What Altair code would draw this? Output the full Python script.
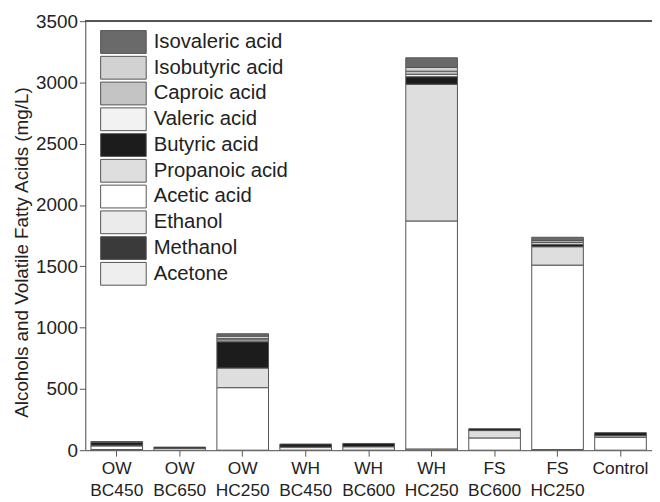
import altair as alt
import pandas as pd

categories = ["OW BC450", "OW BC650", "OW HC250", "WH BC450", "WH BC600",
              "WH HC250", "FS BC600", "FS HC250", "Control"]

# stack order, bottom to top
components = ["Acetone", "Methanol", "Ethanol", "Acetic acid", "Propanoic acid",
              "Butyric acid", "Valeric acid", "Caproic acid", "Isobutyric acid",
              "Isovaleric acid"]

acetone = [5, 0, 0, 25, 28, 10, 0, 5, 0]
methanol = [0, 0, 0, 0, 0, 0, 0, 0, 0]
ethanol = [0, 0, 0, 0, 0, 0, 0, 0, 0]
acetic = [30, 15, 510, 0, 0, 1860, 100, 1505, 105]
propanoic = [5, 0, 160, 0, 0, 1115, 60, 150, 13]
butyric = [25, 10, 215, 25, 27, 62, 15, 20, 25]
valeric = [0, 0, 15, 0, 0, 20, 0, 15, 0]
caproic = [0, 0, 10, 0, 0, 25, 0, 15, 0]
isobutyric = [0, 0, 20, 0, 0, 31, 0, 0, 0]
isovaleric = [5, 0, 20, 0, 0, 78, 0, 27, 0]

series = [acetone, methanol, ethanol, acetic, propanoic, butyric,
          valeric, caproic, isobutyric, isovaleric]

# fill tones standing in for the hatch patterns (same order as components)
tones = ["#eeeeee", "#3a3a3a", "#ebebeb", "#ffffff", "#dedede",
         "#1c1c1c", "#f2f2f2", "#c4c4c4", "#d2d2d2", "#6a6a6a"]

rows = []
for idx, (comp, vals) in enumerate(zip(components, series)):
    for cat, v in zip(categories, vals):
        if v > 0:
            rows.append({"Sample": cat, "Component": comp, "Value": v, "idx": idx})
df = pd.DataFrame(rows)

legend_order = components[::-1]
legend_tones = tones[::-1]

W, H = 572, 433
FONT = "Liberation Sans"

bars = alt.Chart(df).mark_bar(stroke="#555555", strokeWidth=1).encode(
    x=alt.X("Sample:N", sort=categories,
            scale=alt.Scale(paddingInner=0.18, paddingOuter=0.09),
            axis=alt.Axis(title=None, labelAngle=0, labelFontSize=17.5,
                          labelExpr="split(datum.value, ' ')",
                          labelLineHeight=22, labelPadding=4,
                          labelColor="#222", labelFont=FONT,
                          tickSize=6, tickColor="#555", domainColor="#555")),
    y=alt.Y("Value:Q", stack="zero",
            scale=alt.Scale(domain=[0, 3500], nice=False),
            axis=alt.Axis(title="Alcohols and Volatile Fatty Acids (mg/L)",
                          values=[0, 500, 1000, 1500, 2000, 2500, 3000, 3500],
                          format="d",
                          grid=False, labelFontSize=19, labelColor="#222",
                          labelFont=FONT, titleFont=FONT, titleFontSize=19,
                          titleFontWeight="normal", titleColor="#222",
                          titlePadding=4, titleY=233, tickSize=6,
                          tickColor="#555", domainColor="#555")),
    color=alt.Color("Component:N",
                    scale=alt.Scale(domain=legend_order, range=legend_tones),
                    legend=alt.Legend(title=None, orient="none", legendX=26.5,
                                      legendY=9,
                                      symbolType="M-2,-1H2V1H-2Z",
                                      symbolSize=529, symbolStrokeColor="#555555",
                                      symbolStrokeWidth=1, symbolOpacity=1,
                                      labelFontSize=20.5, labelFont=FONT,
                                      labelColor="#222", labelOffset=18.5,
                                      rowPadding=-2.4, labelLimit=300)),
    order=alt.Order("idx:Q", sort="ascending"),
)

top_line = alt.Chart(df).mark_rule(color="#555555", strokeWidth=1.5).encode(
    x=alt.value(0), x2=alt.value(W), y=alt.value(0)
)

chart = alt.layer(bars, top_line).properties(
    width=W, height=H,
    autosize=alt.AutoSizeParams(type="none"),
    padding={"left": 78, "top": 11, "right": 0, "bottom": 50},
).configure_view(stroke=None).configure(font=FONT)

chart.save("out.html", embed_options={"renderer": "svg", "actions": False})
